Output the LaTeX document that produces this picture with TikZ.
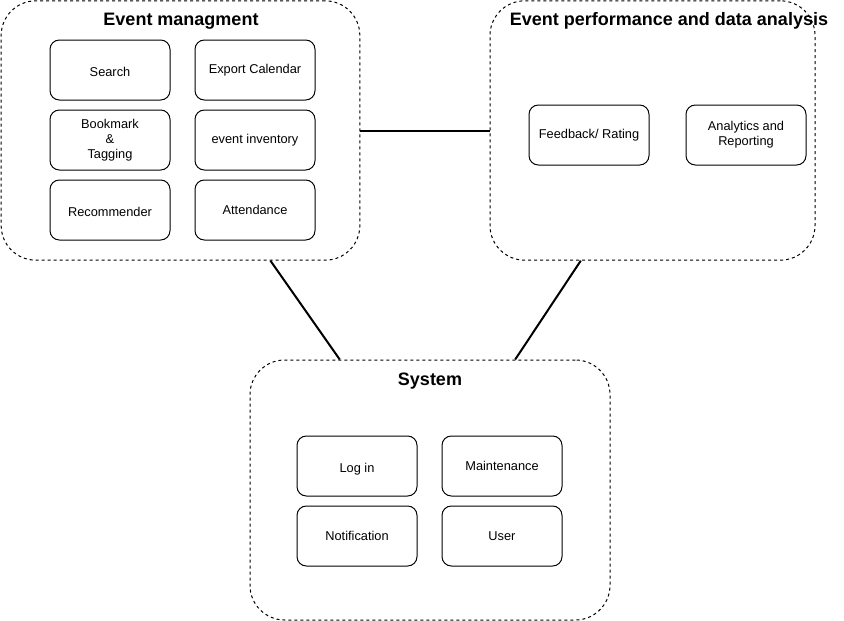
\documentclass[tikz,border=0pt]{standalone}
\usepackage{fontspec}
\setmainfont{Liberation Sans}
\usetikzlibrary{calc}
\begin{document}
\begin{tikzpicture}[x=0.75pt,y=-0.75pt,
group/.style={draw,dashed,dash pattern=on 2.25pt off 2.25pt,line width=0.75pt,rounded corners=26pt,inner sep=0pt},
item/.style={draw,line width=0.75pt,rounded corners=7pt,minimum width=90pt,minimum height=45pt,inner sep=0pt,align=center,font=\fontsize{9.6}{11.25}\selectfont},
low/.style={text height=9.5pt,text depth=0pt},
title/.style={font=\bfseries\fontsize{13.5}{16}\selectfont},
link/.style={line width=1.5pt}]
\useasboundingbox (0,0) rectangle (844,621);
\node[group,minimum width=269pt,minimum height=194.5pt] (EM) at (180.5,130.5) {};
\node[group,minimum width=243.75pt,minimum height=194.5pt] (EP) at (652.5,130.5) {};
\node[group,minimum width=270pt,minimum height=195pt] (SY) at (430,490) {};
\node[title] (T1) at (181,21) {Event managment};
\node[title] (T2) at (669,21) {Event performance and data analysis};
\node[title] (T3) at (430,381) {System};
\node[item,low] (S) at (110,70) {Search};
\node[item] (X) at (255,70) {Export Calendar};
\node[item] (B) at (110,140) {Bookmark\\\&\\Tagging};
\node[item] (I) at (255,140) {event inventory};
\node[item,low] (R) at (110,210) {Recommender};
\node[item] (A) at (255,210) {Attendance};
\node[item] (F) at (589,135) {Feedback/ Rating};
\node[item] (N) at (746,135) {Analytics and\\Reporting};
\node[item,low] (L) at (357,466) {Log in};
\node[item] (M) at (502,466) {Maintenance};
\node[item] (O) at (357,536) {Notification};
\node[item] (U) at (502,536) {User};
\draw[link] (EM.east) -- (EP.west);
\draw[link] ($(EM.south west)!0.75!(EM.south east)$) -- ($(SY.north west)!0.25!(SY.north east)$);
\draw[link] ($(EP.south west)!0.28!(EP.south east)$) -- ($(SY.north west)!0.736!(SY.north east)$);
\end{tikzpicture}
\end{document}
